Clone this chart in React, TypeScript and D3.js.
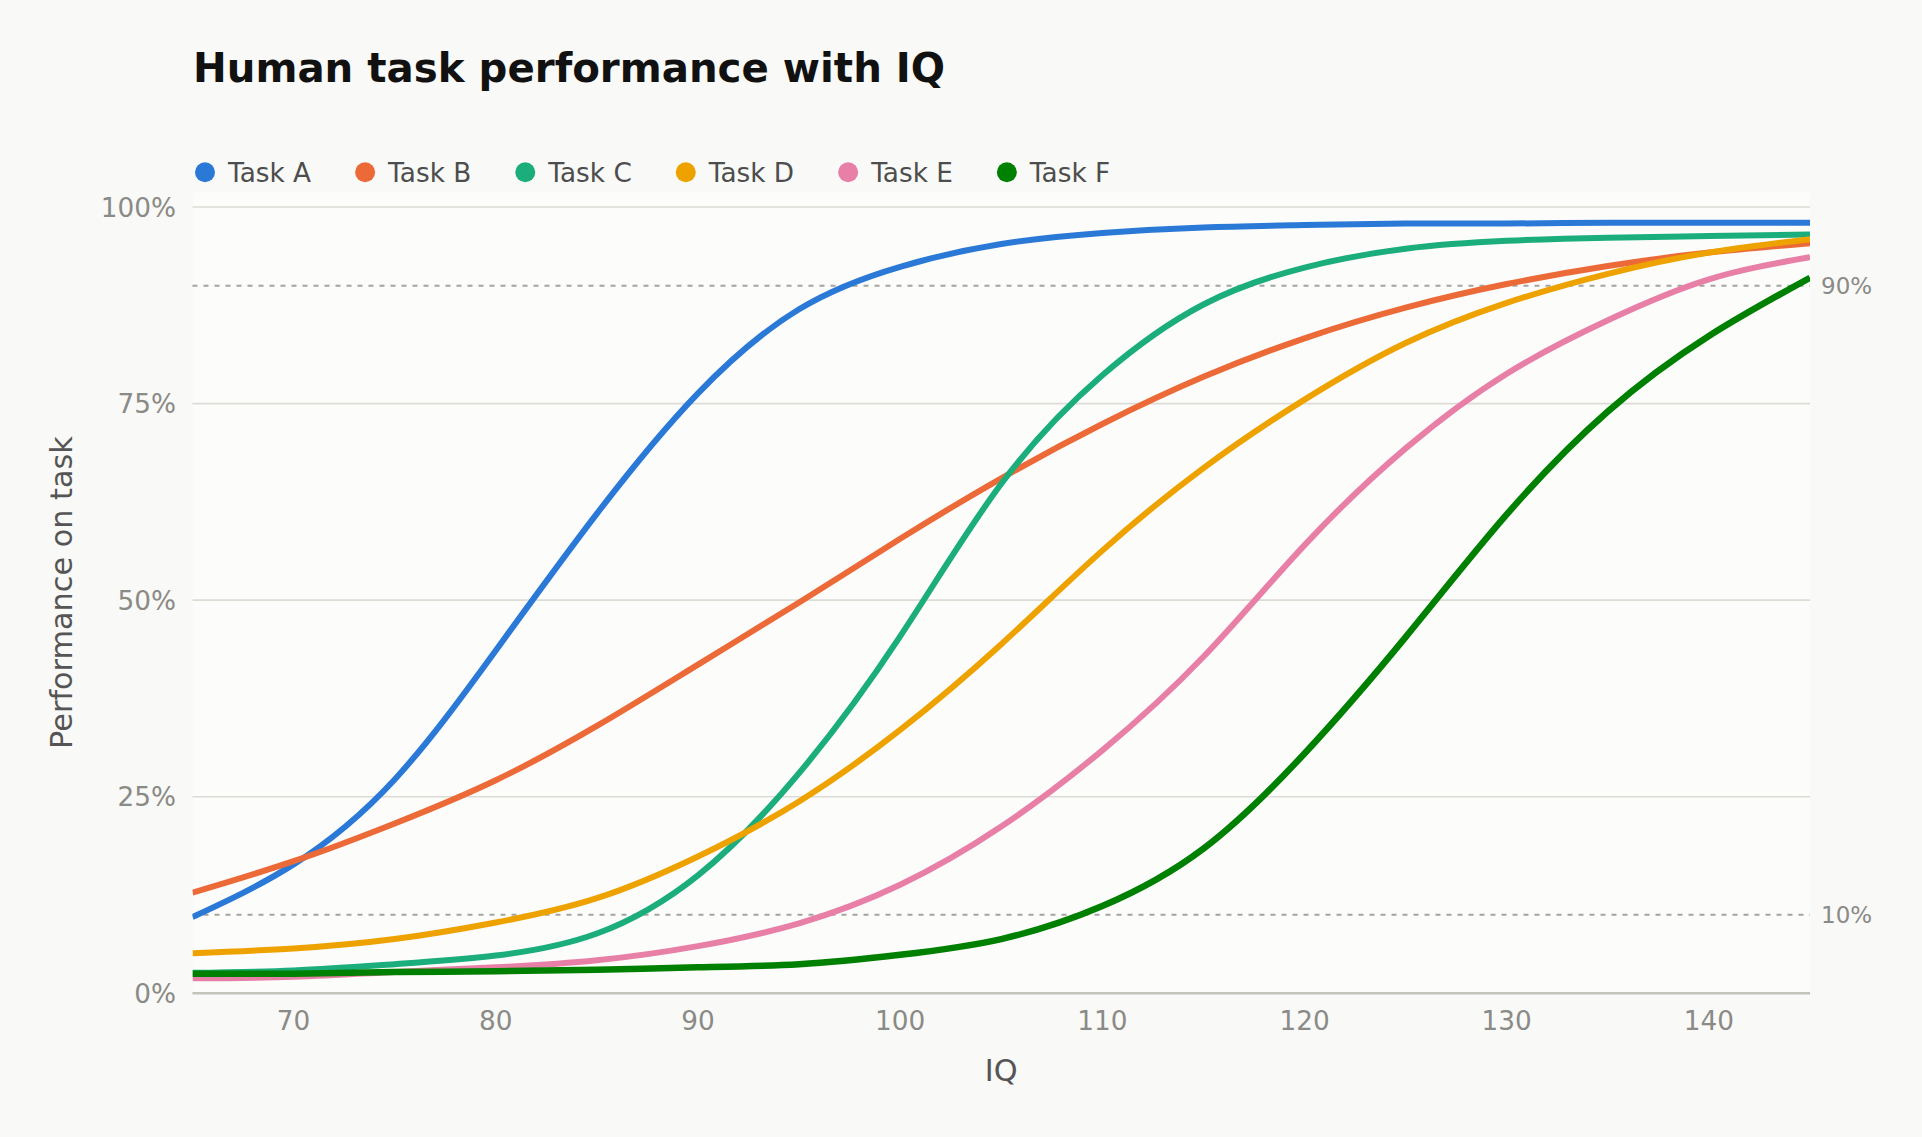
import React, { useEffect, useRef } from "react";
import * as d3 from "d3";

const iq = [65, 70, 75, 80, 85, 90, 95, 100, 105, 110, 115, 120, 125, 130, 135, 140, 145];
const taskA = [9.7, 16.4, 27.2, 43.6, 61.0, 76.3, 87.0, 92.4, 95.3, 96.7, 97.4, 97.7, 97.9, 97.9, 98.0, 98.0, 98.0];
const taskB = [12.8, 16.8, 21.6, 27.1, 34.0, 41.8, 49.7, 57.8, 65.5, 72.4, 78.4, 83.3, 87.2, 90.2, 92.5, 94.2, 95.4];
const taskC = [2.6, 2.9, 3.7, 4.8, 7.6, 15.0, 28.0, 45.4, 64.8, 78.6, 87.6, 92.3, 94.7, 95.7, 96.1, 96.3, 96.5];
const taskD = [5.1, 5.7, 6.9, 9.0, 12.1, 17.4, 24.4, 33.5, 44.4, 56.3, 66.8, 75.5, 82.7, 87.8, 91.5, 94.2, 95.9];
const taskE = [1.9, 2.1, 2.7, 3.3, 4.2, 6.0, 8.9, 13.8, 21.2, 30.9, 42.8, 57.0, 69.3, 78.8, 85.6, 90.8, 93.6];
const taskF = [2.5, 2.5, 2.7, 2.8, 3.0, 3.3, 3.7, 4.9, 6.9, 11.1, 18.4, 30.5, 45.3, 60.9, 74.0, 83.6, 91.0];

const seriesNames = ["Task A", "Task B", "Task C", "Task D", "Task E", "Task F"];
const seriesValues = [taskA, taskB, taskC, taskD, taskE, taskF];
const seriesColors = ["#2b79d7", "#ec6a37", "#1bae7c", "#eea200", "#e87fa6", "#008000"];

const xTicks = [70, 80, 90, 100, 110, 120, 130, 140];
const yTicks = [0, 25, 50, 75, 100];
const refLines = [10, 90];

const W = 1922;
const H = 1137;
const FONT = "'DejaVu Sans', sans-serif";
const SMALL = 26.3;

export default function App() {
  const ref = useRef<SVGSVGElement | null>(null);

  useEffect(() => {
    const svg = d3.select(ref.current);
    svg.selectAll("*").remove();

    const left = 192.5, right = 1810, top = 191.7, bottom = 993.3;
    const x = d3.scaleLinear().domain([65, 145]).range([left, right]);
    const y = d3.scaleLinear().domain([0, 100]).range([bottom, 207]);

    svg.append("rect").attr("width", W).attr("height", H).attr("fill", "#f9f9f7");
    svg.append("rect").attr("x", left).attr("y", top).attr("width", right - left).attr("height", bottom - top).attr("fill", "#fcfcfb");

    // title
    svg.append("text").attr("x", 193).attr("y", 81.5).attr("font-family", FONT).attr("font-size", 40.3)
      .attr("font-weight", "bold").attr("fill", "#111").text("Human task performance with IQ");

    // gridlines
    const g = svg.append("g");
    g.selectAll("line.grid").data(yTicks.filter(t => t > 0)).enter().append("line")
      .attr("x1", left).attr("x2", right).attr("y1", d => y(d)).attr("y2", d => y(d))
      .attr("stroke", "#dcdcd5").attr("stroke-width", 1.6);
    g.selectAll("line.ref").data(refLines).enter().append("line")
      .attr("x1", left).attr("x2", right).attr("y1", d => y(d)).attr("y2", d => y(d))
      .attr("stroke", "#a3a3a0").attr("stroke-width", 2).attr("stroke-dasharray", "5 6");

    // axis line
    svg.append("line").attr("x1", left).attr("x2", right).attr("y1", y(0)).attr("y2", y(0))
      .attr("stroke", "#c3c3b9").attr("stroke-width", 2.5);

    // y tick labels
    svg.selectAll("text.ytick").data(yTicks).enter().append("text")
      .attr("x", 176).attr("y", d => y(d) + 9.5).attr("text-anchor", "end")
      .attr("font-family", FONT).attr("font-size", SMALL).attr("fill", "#8a8a86")
      .text(d => `${d}%`);

    // x tick labels
    svg.selectAll("text.xtick").data(xTicks).enter().append("text")
      .attr("x", d => x(d)).attr("y", 1030).attr("text-anchor", "middle")
      .attr("font-family", FONT).attr("font-size", SMALL).attr("fill", "#8a8a86")
      .text(d => `${d}`);

    // right reference labels
    svg.selectAll("text.ref").data(refLines).enter().append("text")
      .attr("x", 1821).attr("y", d => y(d) + 8).attr("font-family", FONT).attr("font-size", 23)
      .attr("fill", "#8a8a86").text(d => `${d}%`);

    // axis titles
    svg.append("text").attr("x", (left + right) / 2).attr("y", 1081).attr("text-anchor", "middle")
      .attr("font-family", FONT).attr("font-size", 30.3).attr("fill", "#555").text("IQ");
    svg.append("text").attr("transform", "translate(71.5,592.5) rotate(-90)").attr("text-anchor", "middle")
      .attr("font-family", FONT).attr("font-size", 30.3).attr("fill", "#555").text("Performance on task");

    // lines
    svg.append("defs").append("clipPath").attr("id", "plotclip").append("rect")
      .attr("x", left).attr("y", top).attr("width", right - left).attr("height", bottom - top);
    const line = d3.line<number>().x((_, i) => x(iq[i])).y(d => y(d)).curve(d3.curveNatural);
    const lg = svg.append("g").attr("clip-path", "url(#plotclip)");
    seriesValues.forEach((vals, i) => {
      lg.append("path").attr("d", line(vals) as string).attr("fill", "none")
        .attr("stroke", seriesColors[i]).attr("stroke-width", i === 5 ? 6.5 : 6)
        .attr("stroke-linejoin", "round");
    });

    // legend
    const leg = svg.append("g");
    let cx = 205;
    seriesNames.forEach((name, i) => {
      leg.append("circle").attr("cx", cx).attr("cy", 172.3).attr("r", 10).attr("fill", seriesColors[i]);
      const t = leg.append("text").attr("x", cx + 23).attr("y", 181.7).attr("font-family", FONT)
        .attr("font-size", SMALL).attr("fill", "#4d4d4d").text(name);
      const w = (t.node() as SVGTextElement).getComputedTextLength();
      cx = cx + 23 + w + 54;
    });
  }, []);

  return (
    <svg ref={ref} width={W} height={H} style={{ position: "absolute", left: 0, top: 0, display: "block" }} />
  );
}
